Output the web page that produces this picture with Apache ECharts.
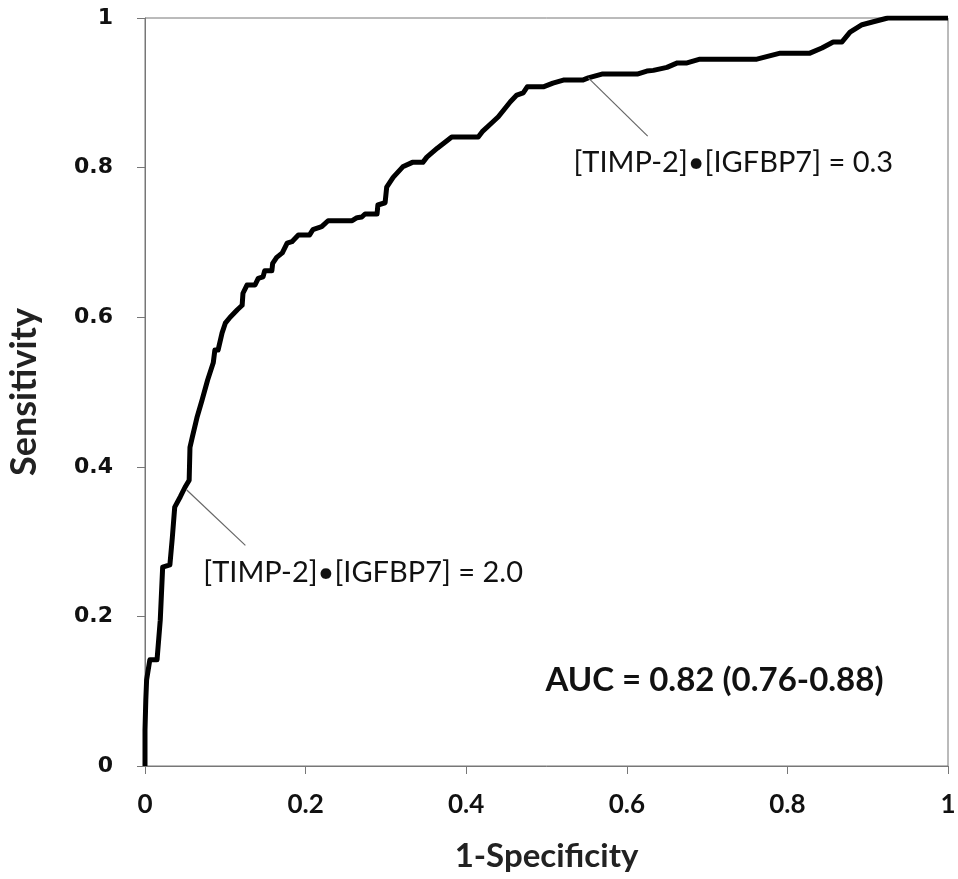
<!DOCTYPE html>
<html><head><meta charset="utf-8">
<script src="https://cdn.jsdelivr.net/npm/echarts@6/dist/echarts.min.js"></script>
<style>html,body{margin:0;padding:0;background:#fff}#c{width:958px;height:879px}</style>
</head><body><div id="c"></div>
<script>
// ROC curve points (1-Specificity, Sensitivity)
const fpr = [0,0,0.001,0.002,0.006,0.015,0.019,0.022,0.031,0.034,0.037,0.044,0.050,0.055,0.056,0.059,0.065,0.071,0.078,0.085,0.087,0.091,0.096,0.100,0.106,0.115,0.121,0.122,0.127,0.137,0.141,0.147,0.149,0.158,0.159,0.164,0.171,0.177,0.183,0.191,0.205,0.209,0.220,0.228,0.258,0.264,0.270,0.274,0.289,0.290,0.299,0.301,0.309,0.321,0.333,0.346,0.351,0.364,0.382,0.415,0.420,0.432,0.440,0.455,0.463,0.471,0.476,0.496,0.508,0.521,0.545,0.552,0.569,0.613,0.625,0.633,0.650,0.663,0.675,0.691,0.762,0.791,0.828,0.843,0.857,0.868,0.878,0.893,0.907,0.925,1];
const tpr = [0,0.048,0.088,0.115,0.142,0.142,0.195,0.266,0.269,0.305,0.346,0.360,0.373,0.382,0.426,0.440,0.467,0.489,0.516,0.539,0.556,0.556,0.579,0.592,0.600,0.610,0.616,0.632,0.643,0.643,0.652,0.654,0.662,0.662,0.672,0.680,0.686,0.699,0.701,0.710,0.710,0.717,0.721,0.729,0.729,0.733,0.734,0.738,0.738,0.750,0.753,0.774,0.787,0.801,0.807,0.807,0.814,0.826,0.841,0.841,0.848,0.860,0.868,0.888,0.897,0.900,0.908,0.908,0.913,0.917,0.917,0.920,0.925,0.925,0.929,0.930,0.934,0.940,0.940,0.945,0.945,0.953,0.953,0.960,0.968,0.968,0.981,0.991,0.995,1.0,1];
const xTicks = [0,0.2,0.4,0.6,0.8,1];
const yTicks = [0,0.2,0.4,0.6,0.8,1];
const xTitle = '1-Specificity';
const yTitle = 'Sensitivity';
// annotations
const ann1Text = '[TIMP-2]\u2022[IGFBP7] = 0.3';
const ann1Line = [[0.552,0.920],[0.626,0.842]];
const ann1Pos = [0.533,0.806];
const ann2Text = '[TIMP-2]\u2022[IGFBP7] = 2.0';
const ann2Line = [[0.052,0.369],[0.125,0.295]];
const ann2Pos = [0.072,0.258];
const aucText = 'AUC = 0.82 (0.76-0.88)';
const aucPos = [0.498,0.115];

const chart = echarts.init(document.getElementById('c'));
const fmt = v => String(v);
const lbl = (text, size, weight) => ({show:true,formatter:text,position:'right',distance:0,
  fontFamily:'Lato',fontWeight:weight,fontSize:size,color:'#111'});
chart.setOption({
  animation:false,
  backgroundColor:'#fff',
  grid:{left:145,right:10,top:18,bottom:113,show:true,borderColor:'#777',borderWidth:1,
        containLabel:false,outerBoundsMode:'none'},
  xAxis:{type:'value',min:0,max:1,interval:0.2,
    name:xTitle,nameLocation:'middle',nameGap:74,
    nameTextStyle:{fontFamily:'Lato',fontWeight:'bold',fontSize:33,color:'#222'},
    axisLine:{show:true,onZero:false,lineStyle:{color:'#777',width:1}},
    axisTick:{show:true,length:8,lineStyle:{color:'#777'}},
    axisLabel:{margin:26,fontFamily:'Lato',fontWeight:'bold',fontSize:26,color:'#111',formatter:fmt},
    splitLine:{show:false}},
  yAxis:{type:'value',min:0,max:1,interval:0.2,
    name:yTitle,nameLocation:'middle',nameGap:103,nameRotate:90,
    nameTextStyle:{fontFamily:'Lato',fontWeight:'bold',fontSize:36,color:'#222'},
    axisLine:{show:true,onZero:false,lineStyle:{color:'#777',width:1}},
    axisTick:{show:true,length:8,lineStyle:{color:'#777'}},
    axisLabel:{margin:32,fontFamily:'DejaVu Sans',fontWeight:'bold',fontSize:22,color:'#111',formatter:fmt},
    splitLine:{show:false}},
  series:[
    {type:'line',data:fpr.map((x,i)=>[x,tpr[i]]),symbol:'none',
     lineStyle:{color:'#000',width:5,join:'round'},z:3,
     markLine:{silent:true,symbol:'none',label:{show:false},
       lineStyle:{color:'#666',width:1.2,type:'solid'},
       data:[[{coord:ann1Line[0]},{coord:ann1Line[1]}],[{coord:ann2Line[0]},{coord:ann2Line[1]}]]},
     markPoint:{silent:true,symbol:'circle',symbolSize:1,itemStyle:{color:'rgba(0,0,0,0)'},
       data:[
        {coord:ann1Pos,label:lbl(ann1Text,29,'normal')},
        {coord:ann2Pos,label:lbl(ann2Text,29,'normal')},
        {coord:aucPos,label:lbl(aucText,33,'bold')}
       ]}}
  ]
});
</script></body></html>
